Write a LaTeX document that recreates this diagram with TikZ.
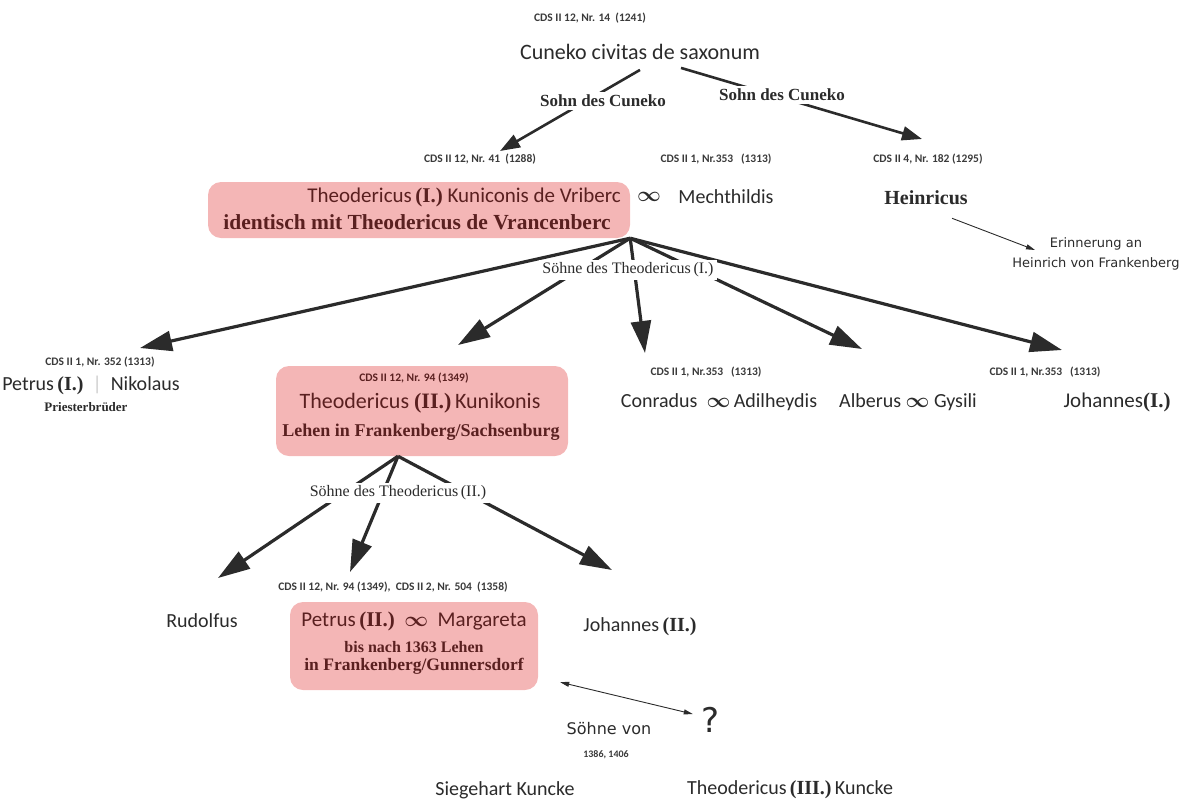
\documentclass[tikz,border=0pt]{standalone}
\usepackage{fontspec}
\setmainfont{Carlito}
\newfontfamily\serifrm{Liberation Serif}
\newfontfamily\verdrm{DejaVu Sans}
\usetikzlibrary{arrows.meta,calc}
\definecolor{famink}{HTML}{2B2B2B}
\definecolor{famgrey}{HTML}{3A3A3A}
\definecolor{fampink}{HTML}{F4B6B6}
\definecolor{famred}{HTML}{5A2020}
\newcommand{\marr}{{\boldmath$\infty$}}
\newcommand{\rom}[1]{{\serifrm\bfseries(#1)}}
\tikzset{
  cds/.style={font=\fontsize{11.5}{13}\selectfont\bfseries, text=famgrey, inner sep=1pt},
  pname/.style={font=\fontsize{20}{22}\selectfont, text=famink, inner sep=1pt},
  sname/.style={font=\fontsize{20}{22}\selectfont\serifrm\bfseries, text=famink, inner sep=1pt},
  sbold/.style={font=\fontsize{18}{20}\selectfont\serifrm\bfseries, text=famred, inner sep=1pt},
  ssmall/.style={font=\fontsize{16}{18}\selectfont\serifrm\bfseries, text=famred, inner sep=1pt},
  lab/.style={font=\fontsize{16}{18}\selectfont\serifrm, text=famink, fill=white, inner sep=3pt},
  remark/.style={font=\fontsize{13}{20}\selectfont\verdrm, text=famink, align=center, inner sep=1pt},
  pinkbox/.style={fill=fampink, rounded corners=13pt, inner sep=0pt},
  fatarr/.style={-{Triangle[length=32pt,width=20pt]}, line width=3.2pt, color=famink},
  midarr/.style={-{Triangle[length=20pt,width=14pt]}, line width=2.6pt, color=famink},
  thinarr/.style={-{Triangle[length=9pt,width=5pt]}, line width=0.9pt, color=famink},
  twoarr/.style={{Triangle[length=9pt,width=5pt]}-{Triangle[length=9pt,width=5pt]}, line width=0.9pt, color=famink},
}
\begin{document}
\begin{tikzpicture}[x=1pt,y=-1pt]
  \useasboundingbox (0,0) rectangle (1188,807);
  % Cuneko
  \node[cds] (refC) at (590,18) {CDS II 12, Nr. 14\ \ (1241)};
  \node[pname, font=\fontsize{22}{24}\selectfont] (cuneko) at (640,52) {Cuneko civitas de saxonum};
  % Theodericus I, Mechthildis, Heinricus
  \node[cds] (refTI) at (480,159) {CDS II 12, Nr. 41\ \ (1288)};
  \node[cds] (refM) at (716,159) {CDS II 1, Nr.353\ \ \ (1313)};
  \node[cds] (refH) at (928,159) {CDS II 4, Nr. 182 (1295)};
  \node[pinkbox, minimum width=422pt, minimum height=56pt] (boxI) at (419,210) {};
  \node[pname, text=famred, font=\fontsize{21}{23}\selectfont, anchor=east] (theoI) at (622,197) {Theodericus\,\rom{I.} Kuniconis de Vriberc};
  \node[sbold, font=\fontsize{21.5}{24}\selectfont\serifrm\bfseries] (identI) at (417,222) {identisch mit Theodericus de Vrancenberc};
  \node[pname] (marI) at (649,197) {\marr};
  \node[pname] (mecht) at (726,197) {Mechthildis};
  \node[sname] (heinr) at (926,198) {Heinricus};
  \node[remark] (erin) at (1096,254) {Erinnerung an\\Heinrich von Frankenberg};
  \coordinate (tipTI) at (500,151);
  \coordinate (tipH) at (922,139);
  \coordinate (tipErin) at (1035,250);
  \draw[midarr] ($(cuneko.south)+(0,9)$) -- (tipTI);
  \draw[midarr] ($(cuneko.south)+(41,7)$) -- (tipH);
  \node[lab, font=\fontsize{17}{19}\selectfont\serifrm\bfseries] (sohnL) at (603,101) {Sohn des Cuneko};
  \node[lab, font=\fontsize{17}{19}\selectfont\serifrm\bfseries] (sohnR) at (782,95) {Sohn des Cuneko};
  \draw[thinarr] ($(heinr.south)+(26,12)$) -- (tipErin);
  % Soehne des Theodericus (I.)
  \coordinate (tipPe) at (140,348);
  \coordinate (tipTII) at (458,345);
  \coordinate (tipCo) at (645,353);
  \coordinate (tipAl) at (862,349);
  \coordinate (tipJo) at (1062,350);
  \foreach \t in {tipPe,tipTII,tipCo,tipAl,tipJo}
    \draw[fatarr] (boxI.south east) -- (\t);
  \node[lab] (soehneI) at (628,270) {Söhne des Theodericus\,(I.)};
  \node[cds] (refPe) at (100,362) {CDS II 1, Nr. 352 (1313)};
  \node[pname] (petrusI) at (91,385) {Petrus\,\rom{I.}\ \ {\color{black!20}|}\ \ Nikolaus};
  \node[sbold, text=famink, font=\fontsize{13}{15}\selectfont\serifrm\bfseries] (priest) at (86,407) {Priesterbrüder};
  \node[pinkbox, minimum width=292pt, minimum height=90pt] (boxII) at (422,411) {};
  \node[cds, text=famred] (refTII) at (414,378) {CDS II 12, Nr. 94 (1349)};
  \node[pname, text=famred, font=\fontsize{22}{24}\selectfont] (theoII) at (420,403) {Theodericus \rom{II.}\,Kunikonis};
  \node[sbold] (lehenII) at (421,432) {Lehen in Frankenberg/Sachsenburg};
  \node[cds] (refCo) at (706,372) {CDS II 1, Nr.353\ \ \ (1313)};
  \node[pname] (conrad) at (719,402) {Conradus\ \ \marr\,Adilheydis};
  \node[pname] (albert) at (908,402) {Alberus \marr\ Gysili};
  \node[cds] (refJo) at (1045,372) {CDS II 1, Nr.353\ \ \ (1313)};
  \node[pname, font=\fontsize{21}{23}\selectfont] (johI) at (1117,402) {Johannes\rom{I.}};
  % Soehne des Theodericus (II.)
  \coordinate (tipRu) at (218,578);
  \coordinate (tipPII) at (350,572);
  \coordinate (tipJII) at (612,570);
  \foreach \t in {tipRu,tipPII,tipJII}
    \draw[fatarr] ($(boxII.south)+(-24,0)$) -- (\t);
  \node[lab] (soehneII) at (398,493) {Söhne des Theodericus\,(II.)};
  \node[cds] (refPII) at (393,587) {CDS II 12, Nr. 94 (1349),\ \ CDS II 2, Nr. 504\ \ (1358)};
  \node[pname] (rudolf) at (202,621) {Rudolfus};
  \node[pinkbox, minimum width=248pt, minimum height=88pt] (boxIII) at (414,646) {};
  \node[pname, text=famred, font=\fontsize{21}{23}\selectfont] (petrusII) at (414,621) {Petrus\,\rom{II.}\ \ \marr\ \ Margareta};
  \node[ssmall] (bisII) at (414,647) {bis nach 1363 Lehen};
  \node[ssmall, font=\fontsize{17.5}{19}\selectfont\serifrm\bfseries] (inII) at (414,666) {in Frankenberg/Gunnersdorf};
  \node[pname] (johII) at (640,627) {Johannes\,\rom{II.}};
  % Soehne von ?
  \node[remark, font=\fontsize{16}{18}\selectfont\verdrm] (soehneV) at (609,729) {Söhne von};
  \node[remark, font=\fontsize{34}{36}\selectfont\verdrm] (quest) at (711,720) {?};
  \node[cds, font=\fontsize{10}{12}\selectfont\bfseries] (jahre) at (606,755) {1386, 1406};
  \draw[twoarr] ($(boxIII.south east)+(22,-8)$) -- ($(quest.west)+(-8,-6)$);
  \node[pname] (sieg) at (505,790) {Siegehart Kuncke};
  \node[pname] (theoIII) at (790,790) {Theodericus\,\rom{III.}\,Kuncke};
\end{tikzpicture}
\end{document}
